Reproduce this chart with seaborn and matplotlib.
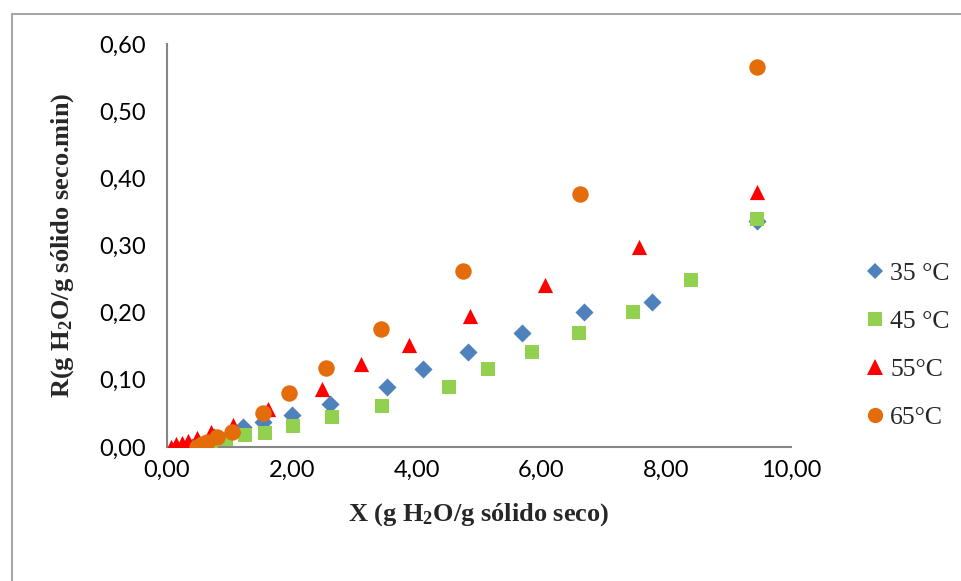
import matplotlib
matplotlib.use("Agg")
import matplotlib.pyplot as plt
import seaborn as sns
import pandas as pd
from matplotlib.ticker import FuncFormatter, MultipleLocator
from matplotlib.lines import Line2D

# ---- data ----
x35 = [0.40, 0.75, 1.22, 1.54, 2.00, 2.61, 3.53, 4.10, 4.82, 5.69, 6.68, 7.77, 9.46]
y35 = [0.000, 0.015, 0.030, 0.037, 0.047, 0.064, 0.089, 0.116, 0.141, 0.170, 0.201, 0.216, 0.336]

x45 = [0.55, 0.70, 0.95, 1.25, 1.57, 2.02, 2.64, 3.45, 4.52, 5.14, 5.85, 6.60, 7.47, 8.40, 9.46]
y45 = [0.003, 0.007, 0.012, 0.018, 0.021, 0.032, 0.045, 0.061, 0.089, 0.116, 0.141, 0.170, 0.201, 0.249, 0.339]

x55 = [0.07, 0.15, 0.24, 0.34, 0.48, 0.70, 1.05, 1.62, 2.48, 3.11, 3.88, 4.86, 6.06, 7.56, 9.46]
y55 = [0.000, 0.004, 0.006, 0.009, 0.014, 0.022, 0.033, 0.056, 0.086, 0.124, 0.152, 0.195, 0.241, 0.298, 0.380]

x65 = [0.48, 0.56, 0.64, 0.80, 1.04, 1.54, 1.96, 2.55, 3.43, 4.74, 6.62, 9.46]
y65 = [0.000, 0.004, 0.008, 0.015, 0.022, 0.050, 0.080, 0.117, 0.175, 0.262, 0.377, 0.566]

labels = ["35 °C", "45 °C", "55°C", "65°C"]
colors = ["#4F81BD", "#92D050", "#FF0000", "#E46C0A"]
markers = ["D", "s", "^", "o"]
sizes = [85, 110, 120, 140]

xlabel = r"X (g H$\mathbf{_2}$O/g sólido seco)"
ylabel = r"R(g H$\mathbf{_2}$O/g sólido seco.min)"

sns.set_theme(style="white")
plt.rcParams["mathtext.fontset"] = "custom"
plt.rcParams["mathtext.bf"] = "Liberation Serif:bold"
plt.rcParams["mathtext.rm"] = "Liberation Serif"

fig = plt.figure(figsize=(9.62, 5.81), dpi=100)
ax = fig.add_axes([167/962, 1-447/581, (791-167)/962, (447-44)/581])

series = [(x35, y35), (x45, y45), (x55, y55), (x65, y65)]
for (xs, ys), lab, c, m, s in zip(series, labels, colors, markers, sizes):
    df = pd.DataFrame({"x": xs, "y": ys})
    sns.scatterplot(data=df, x="x", y="y", ax=ax, color=c, marker=m, s=s,
                    linewidth=0, label=lab, legend=False, zorder=3)

ax.set_xlim(0, 10)
ax.set_ylim(0, 0.6)
ax.xaxis.set_major_locator(MultipleLocator(2))
ax.yaxis.set_major_locator(MultipleLocator(0.1))
fmt = FuncFormatter(lambda v, p: f"{v:.2f}".replace(".", ","))
ax.xaxis.set_major_formatter(fmt)
ax.yaxis.set_major_formatter(fmt)

for sp in ["top", "right"]:
    ax.spines[sp].set_visible(False)
for sp in ["left", "bottom"]:
    ax.spines[sp].set_color("#868686")
    ax.spines[sp].set_linewidth(1.5)
ax.tick_params(axis="both", which="major", direction="out", length=5, width=1.5,
               color="#868686", labelsize=17)
ax.tick_params(axis="x", pad=4)
ax.tick_params(axis="y", pad=10)
for t in ax.get_xticklabels() + ax.get_yticklabels():
    t.set_fontfamily("Lato")
    t.set_color("black")

ax.set_xlabel(xlabel, fontfamily="Liberation Serif", fontweight="bold", fontsize=19)
ax.set_ylabel(ylabel, fontfamily="Liberation Serif", fontweight="bold", fontsize=19)
ax.xaxis.set_label_coords(0.5, -(515-447)/403, transform=ax.transAxes)
ax.xaxis.label.set_va("center")
ax.yaxis.set_label_coords(-(167-63)/624, 0.5, transform=ax.transAxes)
ax.yaxis.label.set_va("center")

handles = [Line2D([0], [0], marker=m, color="none", markerfacecolor=c, markeredgewidth=0,
                  markersize=ms) for m, c, ms in zip(markers, colors, [8, 10, 11, 11])]
leg = fig.legend(handles, labels, loc="upper left", bbox_to_anchor=(853/962, 1-249/581),
                 frameon=False, prop={"family": "Liberation Serif", "size": 18.5},
                 handlelength=0.7, handletextpad=0.25, labelspacing=0.97, borderpad=0)

# outer chart border (top and left edges visible)
fig.add_artist(Line2D([12/962, 1.0], [1-14/581, 1-14/581], transform=fig.transFigure,
                      color="#A6A6A6", linewidth=1.5))
fig.add_artist(Line2D([12/962, 12/962], [1-14/581, 0.0], transform=fig.transFigure,
                      color="#A6A6A6", linewidth=1.5))

fig.savefig("out.png", dpi=100, facecolor="white")
